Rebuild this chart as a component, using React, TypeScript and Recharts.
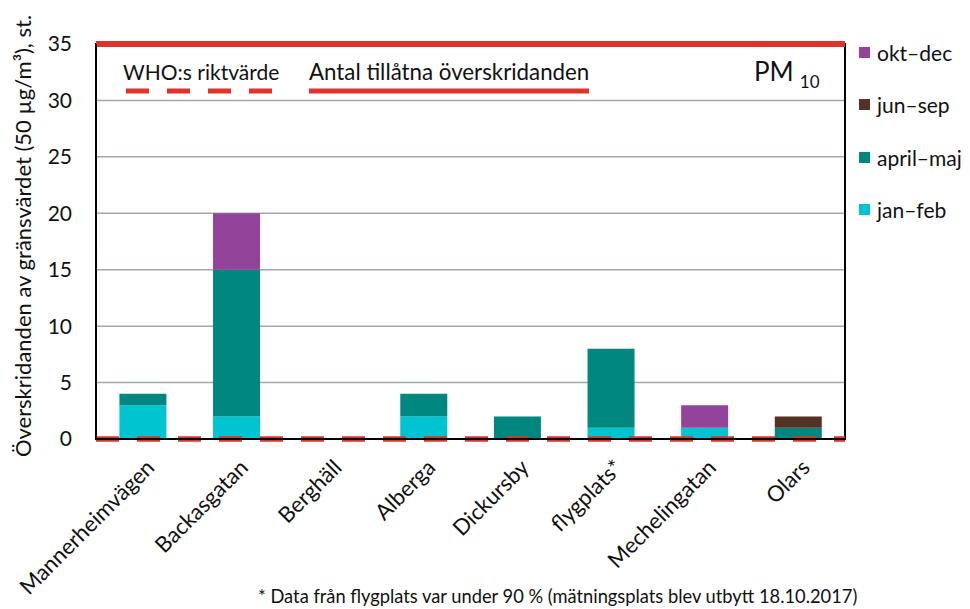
import { BarChart, Bar, XAxis, YAxis, CartesianGrid, ReferenceLine, ReferenceArea } from 'recharts';

const stations = ['Mannerheimvägen', 'Backasgatan', 'Berghäll', 'Alberga', 'Dickursby', 'flygplats*', 'Mechelingatan', 'Olars'];
const janFeb = [3, 2, 0, 2, 0, 1, 1, 0];
const aprilMaj = [1, 13, 0, 2, 2, 7, 0, 1];
const junSep = [0, 0, 0, 0, 0, 0, 0, 1];
const oktDec = [0, 5, 0, 0, 0, 0, 2, 0];
const yTicks = [0, 5, 10, 15, 20, 25, 30, 35];
const allowedExceedances = 35;
const whoGuideline = 0;

const RED = '#e0332a';
const FONT = 'Lato, "Open Sans", sans-serif';

const series = [
  { key: 'okt–dec', values: oktDec, color: '#93449a' },
  { key: 'jun–sep', values: junSep, color: '#553324' },
  { key: 'april–maj', values: aprilMaj, color: '#00877f' },
  { key: 'jan–feb', values: janFeb, color: '#00c4cf' },
];

const data = stations.map((name, i) => {
  const row: Record<string, string | number> = { name };
  series.forEach(s => { row[s.key] = s.values[i]; });
  return row;
});

// stack order bottom -> top
const stackOrder = [...series].reverse();

function StationTick({ x, y, payload }: any) {
  const ax = x + 13;
  const ay = y + 22;
  return (
    <text
      x={ax}
      y={ay}
      textAnchor="end"
      transform={`rotate(-45 ${ax} ${ay})`}
      fontSize={22}
      fontFamily={FONT}
      fill="#111"
    >
      {payload.value}
    </text>
  );
}

export default function App() {
  return (
    <div style={{ position: 'absolute', left: 0, top: 0, width: 970, height: 609, background: '#fff' }}>
      <BarChart
        width={970}
        height={609}
        data={data}
        margin={{ top: 44, right: 125, left: 0, bottom: 0 }}
        barCategoryGap="25%"
      >
        <CartesianGrid vertical={false} stroke="#9fa9ac" strokeWidth={1.5} />
        <XAxis
          dataKey="name"
          height={170}
          interval={0}
          tickLine={false}
          axisLine={{ stroke: '#000', strokeWidth: 2 }}
          tick={<StationTick />}
        />
        <YAxis
          width={96}
          domain={[0, 35]}
          ticks={yTicks}
          tickLine={false}
          tickSize={0}
          tickMargin={24}
          axisLine={{ stroke: '#000', strokeWidth: 2 }}
          tick={{ fontSize: 21, fill: '#111', fontFamily: FONT }}
        />
        <ReferenceArea y1={0} y2={35} fill="none" stroke="#000" strokeWidth={2} />
        {stackOrder.map(s => (
          <Bar key={s.key} dataKey={s.key} stackId="a" fill={s.color} isAnimationActive={false} />
        ))}
        <ReferenceLine y={allowedExceedances} stroke={RED} strokeWidth={6} />
        <ReferenceLine y={whoGuideline} stroke={RED} strokeWidth={5.5} strokeDasharray="23 18" />
      </BarChart>

      <svg width={970} height={609} style={{ position: 'absolute', left: 0, top: 0, pointerEvents: 'none' }}>
        <text
          x={22}
          y={236}
          transform="rotate(-90 22 236)"
          textAnchor="middle"
          dominantBaseline="central"
          fontSize={22}
          fontFamily={FONT}
          fill="#111"
        >
          Överskridanden av gränsvärdet (50 µg/m³), st.
        </text>
        <text x={123} y={80} fontSize={21} fontFamily={FONT} fill="#111">WHO:s riktvärde</text>
        <line x1={126} x2={273} y1={91} y2={91} stroke={RED} strokeWidth={5} strokeDasharray="23 18" />
        <text x={309} y={80} fontSize={22.3} fontFamily={FONT} fill="#111">Antal tillåtna överskridanden</text>
        <line x1={309} x2={589} y1={91} y2={91} stroke={RED} strokeWidth={5} />
        <text x={754} y={81} fontSize={26} fontFamily={FONT} fill="#111">
          PM<tspan dx={6} dy={7} fontSize={17}>10</tspan>
        </text>
        <text x={258} y={603} fontSize={18.3} fontFamily={FONT} fill="#111">
          * Data från flygplats var under 90 % (mätningsplats blev utbytt 18.10.2017)
        </text>
      </svg>

      <div style={{ position: 'absolute', left: 859, top: 26, fontFamily: FONT, fontSize: 21, color: '#111' }}>
        {series.map(s => (
          <div key={s.key} style={{ display: 'flex', alignItems: 'center', height: 52.5 }}>
            <span style={{ width: 11, height: 11, background: s.color, display: 'inline-block', marginRight: 7 }} />
            {s.key}
          </div>
        ))}
      </div>
    </div>
  );
}
